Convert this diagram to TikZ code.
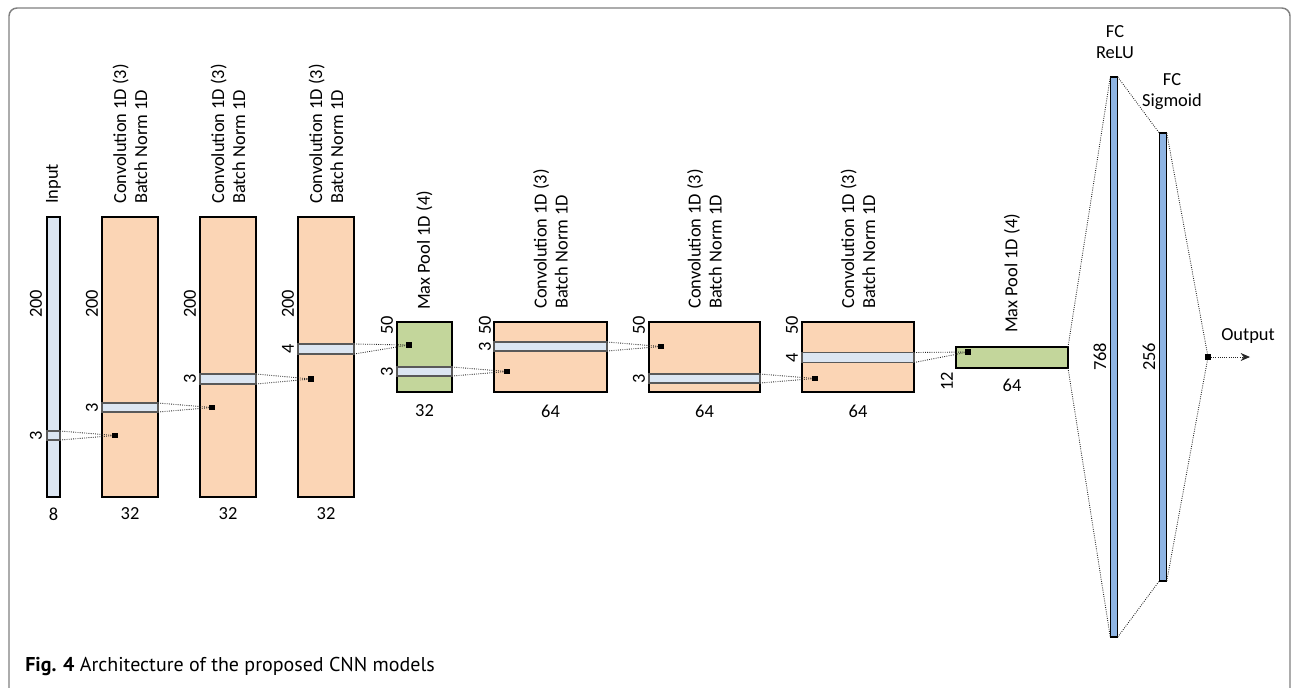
\documentclass[tikz,border=0pt]{standalone}
\usepackage{fontspec}
\setmainfont{Carlito}
\newfontfamily\capfont{PT Sans}
\usetikzlibrary{positioning,arrows.meta}

\definecolor{convfill}{RGB}{251,213,181}
\definecolor{poolfill}{RGB}{195,214,155}
\definecolor{bandfill}{RGB}{220,230,242}
\definecolor{fcfill}{RGB}{142,180,227}

\tikzstyle{box}=[draw,line width=0.9pt,inner sep=0pt,outer sep=0pt]
\tikzstyle{conv}=[box,fill=convfill]
\tikzstyle{pool}=[box,fill=poolfill]
\tikzstyle{inbar}=[box,fill=bandfill]
\tikzstyle{fc}=[box,fill=fcfill]
\tikzstyle{band}=[draw=black!65,line width=0.9pt,fill=bandfill,
    inner sep=0pt,outer sep=0pt]
\tikzstyle{kernel}=[fill=black,minimum size=4.2pt,inner sep=0pt]
\tikzstyle{link}=[densely dotted,line width=0.65pt,color=black!85]
\tikzstyle{dim}=[font=\fontsize{13.8}{15.8}\selectfont,inner sep=1.5pt]
\tikzstyle{rdim}=[dim,rotate=90]
\tikzstyle{title}=[dim,rotate=90,anchor=west,align=left]
\tikzstyle{frame}=[draw=black!50,line width=1.1pt,rounded corners=6pt]

\newcommand{\layer}[6][conv]{
    \node[#1,minimum width=#5*0.75pt,minimum height=#6*0.75pt] (#2) at (#3,#4) {};
}
\newcommand{\band}[5]{
    \node[band,minimum width=#4*0.75pt,minimum height=#5*0.75pt] (#1) at (#2,#3) {};
}
\newcommand{\kernel}[4]{
    \node[kernel] (#2) at (#3,#4) {};
    \draw[link] (#1.north east) -- (#2);
    \draw[link] (#1.south east) -- (#2);
}

\begin{document}
\begin{tikzpicture}[x=0.75pt,y=-0.75pt]
    \useasboundingbox (0,0) rectangle (1293,687);
    \draw[frame] (9,720) |- (1290,8) -- (1290,720);
    %
    \layer[inbar]{in}{53.5}{357}{13}{280}
    \layer{c1}{130}{357}{56}{280}
    \layer{c2}{228}{357}{56}{280}
    \layer{c3}{326}{357}{56}{280}
    \layer[pool]{p1}{424.5}{357}{55}{70}
    \layer{c4}{550.5}{357}{113}{70}
    \layer{c5}{704.5}{357}{111}{70}
    \layer{c6}{858}{357}{112}{70}
    \layer[pool]{p2}{1012}{357.5}{112}{21}
    \layer[fc]{fc1}{1114}{357}{7.5}{560}
    \layer[fc]{fc2}{1163}{357}{7.5}{448}
    %
    \band{bin}{53.5}{435.5}{13}{9}
    \band{bc1}{130}{407.5}{56}{9}
    \band{bc2}{228}{379}{56}{10}
    \band{bc3}{326}{349}{56}{10}
    \band{bp1}{424.5}{371.5}{55}{9}
    \band{bc4}{550.5}{346.5}{113}{9}
    \band{bc5}{704.5}{378.5}{111}{9}
    \band{bc6}{858}{357.5}{112}{10}
    %
    \kernel{bin}{kc1}{115}{435.5}
    \kernel{bc1}{kc2}{212}{407.5}
    \kernel{bc2}{kc3}{311}{379}
    \kernel{bc3}{kp1}{409}{345}
    \kernel{bp1}{kc4}{507}{371.5}
    \kernel{bc4}{kc5}{661}{346.5}
    \kernel{bc5}{kc6}{815}{378.5}
    \kernel{bc6}{kp2}{968}{352}
    %
    \node[kernel] (out) at (1208,357) {};
    \coordinate (outtip) at (1250,357);
    \draw[link] (p2.north east) -- (fc1.north west);
    \draw[link] (p2.south east) -- (fc1.south west);
    \draw[link] (fc1.north east) -- (fc2.north west);
    \draw[link] (fc1.south east) -- (fc2.south west);
    \draw[link] (fc2.north east) -- (out);
    \draw[link] (fc2.south east) -- (out);
    \draw[link,-{Stealth[length=7pt,width=6pt]}] (out) -- (outtip);
    %
    \node[title] (tin) at (53.5,206) {Input};
    \node[title] (tc1) at (130,206) {Convolution 1D (3)\\Batch Norm 1D};
    \node[title] (tc2) at (228,206) {Convolution 1D (3)\\Batch Norm 1D};
    \node[title] (tc3) at (326,206) {Convolution 1D (3)\\Batch Norm 1D};
    \node[title] (tp1) at (424.5,312) {Max Pool 1D (4)};
    \node[title] (tc4) at (550.5,311) {Convolution 1D (3)\\Batch Norm 1D};
    \node[title] (tc5) at (704.5,311) {Convolution 1D (3)\\Batch Norm 1D};
    \node[title] (tc6) at (858,311) {Convolution 1D (3)\\Batch Norm 1D};
    \node[title] (tp2) at (1012,335) {Max Pool 1D (4)};
    \node[dim,align=center] (tfc1) at (1115,42) {FC\\ReLU};
    \node[dim,align=center] (tfc2) at (1172,92) {FC\\Sigmoid};
    \node[dim] (tout) at (1248,336) {Output};
    %
    \node[rdim] (hin) at (36,304) {200};
    \node[rdim] (kin) at (36,436) {3};
    \node[dim] (win) at (53.5,514) {8};
    \node[rdim] (hc1) at (92,304) {200};
    \node[rdim] (kc1l) at (92,407.5) {3};
    \node[dim] (wc1) at (130,514) {32};
    \node[rdim] (hc2) at (190,304) {200};
    \node[rdim] (kc2l) at (190,379) {3};
    \node[dim] (wc2) at (228,514) {32};
    \node[rdim] (hc3) at (288,304) {200};
    \node[rdim] (kc3l) at (288,349) {4};
    \node[dim] (wc3) at (326,514) {32};
    \node[rdim] (hp1) at (387,325) {50};
    \node[rdim] (kp1l) at (387,371.5) {3};
    \node[dim] (wp1) at (424.5,411) {32};
    \node[rdim] (hc4) at (485,325) {50};
    \node[rdim] (kc4l) at (485,346.5) {3};
    \node[dim] (wc4) at (550.5,411) {64};
    \node[rdim] (hc5) at (639,325) {50};
    \node[rdim] (kc5l) at (639,378.5) {3};
    \node[dim] (wc5) at (704.5,411) {64};
    \node[rdim] (hc6) at (792,325) {50};
    \node[rdim] (kc6l) at (792,357.5) {4};
    \node[dim] (wc6) at (858,411) {64};
    \node[rdim] (hp2) at (947,381) {12};
    \node[dim] (wp2) at (1012,385) {64};
    \node[rdim] (hfc1) at (1100,357) {768};
    \node[rdim] (hfc2) at (1149,357) {256};
    %
    \node[anchor=west,inner sep=0pt,font=\capfont\fontsize{15}{17}\selectfont] (cap)
        at (25,666) {\textbf{Fig. 4} Architecture of the proposed CNN models};
\end{tikzpicture}
\end{document}
